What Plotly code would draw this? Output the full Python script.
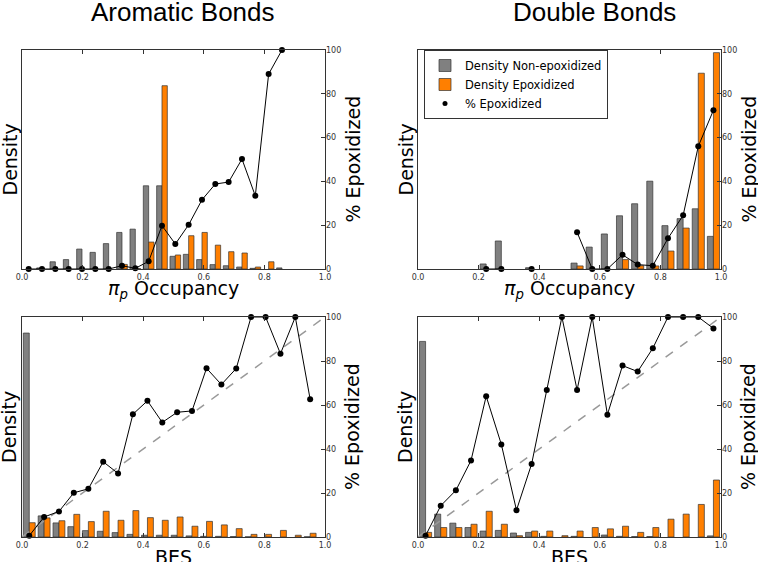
import plotly.graph_objects as go

W, H = 758, 562

# ---------------- data ----------------
# Aromatic bonds, pi_p occupancy histogram (bin centres)
arom_occ_x = [0.022, 0.066, 0.110, 0.154, 0.198, 0.242, 0.286, 0.330, 0.374, 0.418,
              0.462, 0.506, 0.550, 0.594, 0.638, 0.682, 0.726, 0.770, 0.814, 0.858]
arom_occ_non = [None, 0.5, 3.3, 4.3, 9.1, 7.6, 11.6, 16.7, 18.2, 38.0,
                38.0, 5.8, 6.7, 4.3, 2.0, 1.5, 0.9, 0.3, None, 0.5]
arom_occ_epo = [None, None, None, None, None, None, None, 2.1, 0.2, 12.3,
                83.7, 6.4, 15.2, 16.7, 10.9, 7.9, 7.3, 0.9, 3.3, None]
arom_occ_pct = [0, 0, 0, 0, 0, 0, 0, 1.5, 0.3, 3.5,
                19.8, 11.4, 20.2, 31.6, 38.8, 39.7, 50.2, 33.4, 89.0, 100]

# Double bonds, pi_p occupancy
dbl_occ_x = [0.025, 0.075, 0.125, 0.175, 0.225, 0.275, 0.325, 0.375, 0.425, 0.475,
             0.525, 0.575, 0.625, 0.675, 0.725, 0.775, 0.825, 0.875, 0.925, 0.975]
dbl_occ_non = [None, None, None, None, 2.3, 12.8, None, 0.6, None, None,
               2.7, 10.0, 16.0, 24.3, 29.8, 40.1, 19.8, 23.0, 27.5, 14.9]
dbl_occ_epo = [None, None, None, None, None, None, None, None, None, None,
               1.4, None, None, 4.3, 1.5, 1.4, 8.2, 18.7, 89.4, 98.8]
dbl_occ_pct = [None, None, None, None, 0, 0, None, 0, None, None,
               16.8, 0, 0, 6.5, 2.0, 1.5, 14.0, 24.5, 56.0, 72.5]

# Aromatic bonds, BES
arom_bes_x = [0.024, 0.073, 0.122, 0.171, 0.219, 0.268, 0.317, 0.366, 0.414, 0.463,
              0.512, 0.561, 0.609, 0.658, 0.707, 0.756, 0.804, 0.853, 0.902, 0.951]
arom_bes_non = [92.7, 9.6, 6.4, 4.7, 2.9, 2.6, 2.0, 1.2, 0.8, 0.8,
                0.8, 0.5, 0.3, 0.3, 0.2, 0.1, None, None, None, 0.1]
arom_bes_epo = [6.5, 8.7, 7.4, 10.3, 7.0, 11.7, 7.6, 12.0, 8.8, 7.6,
                9.1, 4.9, 7.1, 5.5, 3.8, 1.2, 1.2, 3.0, 0.8, 1.7]
arom_bes_pct = [0.6, 9.1, 11.6, 20.1, 21.9, 34.2, 28.9, 55.8, 61.9, 52.1,
                56.7, 57.3, 76.7, 69.3, 76.6, 100, 100, 83.3, 100, 62.6]

# Double bonds, BES
dbl_bes_x = [0.025, 0.075, 0.125, 0.175, 0.225, 0.275, 0.325, 0.375, 0.425, 0.475,
             0.525, 0.575, 0.625, 0.675, 0.725, 0.775, 0.825, 0.875, 0.925, 0.975]
dbl_bes_non = [88.9, 10.4, 6.3, 4.3, 2.7, 3.0, 1.8, 2.1, 0.3, None,
               0.3, None, 0.9, 0.3, 0.2, 0.2, None, None, None, 0.5]
dbl_bes_epo = [2.1, 4.3, 4.3, 5.8, 11.7, 5.8, 0.6, 2.7, 2.7, 0.6,
               2.7, 4.3, 3.7, 4.9, 2.1, 4.3, 8.1, 10.4, 14.8, 25.9]
dbl_bes_pct = [0.6, 14.2, 21.2, 34.8, 64.0, 42.1, 12.2, 33.2, 66.8, 100,
               66.8, 100, 55.6, 77.9, 75.2, 85.8, 100, 100, 100, 94.8]

# y = x reference line (BES panels)
ref_x = [0.0, 1.0]
ref_y = [0, 100]

titles = ["Aromatic Bonds", "Double Bonds"]
x_titles = ["<i>π</i><sub><i>p</i></sub> Occupancy", "<i>π</i><sub><i>p</i></sub> Occupancy", "BES", "BES"]
x_ticks = [0.0, 0.2, 0.4, 0.6, 0.8, 1.0]
pct_ticks = [0, 20, 40, 60, 80, 100]

GRAY = "#808080"
ORANGE = "#ff7f00"
EDGE = "#333333"
FRAME = "#333333"

panels = [
    dict(x=arom_occ_x, non=arom_occ_non, epo=arom_occ_epo, pct=arom_occ_pct, ref=False,
         px=(22, 325), py=(50, 269)),
    dict(x=dbl_occ_x, non=dbl_occ_non, epo=dbl_occ_epo, pct=dbl_occ_pct, ref=False,
         px=(418, 721), py=(50, 269)),
    dict(x=arom_bes_x, non=arom_bes_non, epo=arom_bes_epo, pct=arom_bes_pct, ref=True,
         px=(22, 325), py=(317, 537)),
    dict(x=dbl_bes_x, non=dbl_bes_non, epo=dbl_bes_epo, pct=dbl_bes_pct, ref=True,
         px=(418, 721), py=(317, 537)),
]

fig = go.Figure()
layout = {}
annotations = []

def nm(prefix, i):
    return prefix if i == 1 else f"{prefix}{i}"

tick_font = dict(family="DejaVu Sans", size=8, color="#333333")
lab_font = dict(family="DejaVu Sans", size=19, color="black")

for k, p in enumerate(panels, start=1):
    xa = nm("x", k)
    yl = nm("y", 2 * k - 1)
    yr = nm("y", 2 * k)
    binw = p["x"][1] - p["x"][0]
    bw = 0.4 * binw
    first = (k == 2)
    fig.add_trace(go.Bar(x=p["x"], y=p["non"], xaxis=xa, yaxis=yl, width=bw, offset=-bw,
                         marker=dict(color=GRAY, line=dict(color=EDGE, width=0.7)),
                         name="Density Non-epoxidized", showlegend=first))
    fig.add_trace(go.Bar(x=p["x"], y=p["epo"], xaxis=xa, yaxis=yl, width=bw, offset=0,
                         marker=dict(color=ORANGE, line=dict(color=EDGE, width=0.7)),
                         name="Density Epoxidized", showlegend=first))
    if p["ref"]:
        fig.add_trace(go.Scatter(x=ref_x, y=ref_y, xaxis=xa, yaxis=yr, mode="lines",
                                 line=dict(color="#999999", width=1.5, dash="dash"),
                                 showlegend=False, hoverinfo="skip"))
    fig.add_trace(go.Scatter(x=p["x"], y=p["pct"], xaxis=xa, yaxis=yr, mode="lines+markers",
                             line=dict(color="black", width=1),
                             marker=dict(color="black", size=6),
                             connectgaps=False, name="% Epoxidized", showlegend=False,
                             cliponaxis=False))
    if first:
        fig.add_trace(go.Scatter(x=[None], y=[None], xaxis=xa, yaxis=yr, mode="markers",
                                 marker=dict(color="black", size=5),
                                 name="% Epoxidized", showlegend=True))

    xd = [p["px"][0] / W, p["px"][1] / W]
    yd = [1 - p["py"][1] / H, 1 - p["py"][0] / H]
    layout["xaxis" if k == 1 else f"xaxis{k}"] = dict(
        domain=xd, anchor=yl, range=[0, 1], tickvals=x_ticks, tickformat=".1f",
        ticks="inside", ticklen=4, tickcolor=FRAME, showline=True, linecolor=FRAME,
        linewidth=1, mirror="ticks", showgrid=False, zeroline=False, tickfont=tick_font,
        automargin=False)
    layout["yaxis" if 2 * k - 1 == 1 else f"yaxis{2 * k - 1}"] = dict(
        domain=yd, anchor=xa, range=[0, 100], showticklabels=False, ticks="",
        showline=True, linecolor=FRAME, linewidth=1, mirror=True, showgrid=False,
        zeroline=False, automargin=False)
    layout[f"yaxis{2 * k}"] = dict(
        domain=yd, anchor=xa, overlaying=yl, side="right", range=[0, 100],
        tickvals=pct_ticks, ticks="inside", ticklen=4, tickcolor=FRAME,
        showline=False, showgrid=False, zeroline=False, tickfont=tick_font,
        automargin=False)

    cx = (p["px"][0] + p["px"][1]) / 2
    cy = (p["py"][0] + p["py"][1]) / 2
    annotations.append(dict(text="Density", x=(p["px"][0] - 13) / W, y=1 - cy / H,
                            xref="paper", yref="paper", showarrow=False, textangle=-90,
                            font=lab_font, xanchor="center", yanchor="middle"))
    annotations.append(dict(text="% Epoxidized", x=(p["px"][1] + 27) / W, y=1 - cy / H,
                            xref="paper", yref="paper", showarrow=False, textangle=-90,
                            font=lab_font, xanchor="center", yanchor="middle"))
    annotations.append(dict(text=x_titles[k - 1], x=cx / W, y=1 - (p["py"][1] + 20) / H,
                            xref="paper", yref="paper", showarrow=False,
                            font=lab_font, xanchor="center", yanchor="middle"))

annotations.append(dict(text=titles[0], x=182.5 / W, y=1 - 12 / H, xref="paper", yref="paper",
                        showarrow=False, font=dict(family="Liberation Sans", size=26, color="black"),
                        xanchor="center", yanchor="middle"))
annotations.append(dict(text=titles[1], x=594 / W, y=1 - 12 / H, xref="paper", yref="paper",
                        showarrow=False, font=dict(family="Liberation Sans", size=26, color="black"),
                        xanchor="center", yanchor="middle"))

fig.update_layout(
    **layout,
    template="none",
    annotations=annotations,
    width=W, height=H,
    margin=dict(l=0, r=0, t=0, b=0, pad=0),
    paper_bgcolor="white", plot_bgcolor="white",
    barmode="overlay",
    showlegend=True,
    legend=dict(x=424 / W, y=1 - 50 / H, xanchor="left", yanchor="top",
                bgcolor="white", bordercolor=FRAME, borderwidth=1,
                font=dict(family="DejaVu Sans", size=11.5, color="black")),
)

fig.write_html("out.html", config={"displayModeBar": False},
               post_script="document.body.style.margin='0';document.body.style.overflow='hidden';")
